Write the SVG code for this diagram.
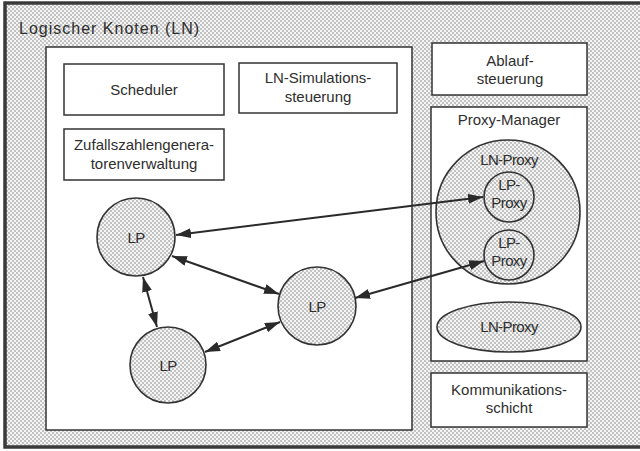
<svg xmlns="http://www.w3.org/2000/svg" width="640" height="451" viewBox="0 0 640 451">
  <defs>
    <pattern id="dots" width="4" height="4" patternUnits="userSpaceOnUse">
      <rect width="4" height="4" fill="#f4f4f4"/>
      <rect x="0" y="0" width="2" height="2" fill="#c2c2c2"/>
      <rect x="2" y="2" width="2" height="2" fill="#c2c2c2"/>
    </pattern>
    <marker id="head" viewBox="0 0 15 10" refX="15" refY="5" markerWidth="15" markerHeight="10" markerUnits="userSpaceOnUse" orient="auto-start-reverse">
      <path d="M0,0 L15,5 L0,10 Z" fill="#2a2a2a"/>
    </marker>
    <style>
      text { font-family: "Liberation Sans", Arial, sans-serif; font-size: 15px; fill: #2e2e2e; text-anchor: middle; }
      .box { fill: #ffffff; stroke: #333333; stroke-width: 1.5; }
      .dot { fill: url(#dots); stroke: #333333; stroke-width: 1.6; }
      .arrow { fill: none; stroke: #2a2a2a; stroke-width: 2; marker-start: url(#head); marker-end: url(#head); }
      .tight { letter-spacing: -0.6px; }
    </style>
  </defs>

  <!-- logical node frame -->
  <g id="ln">
    <rect x="5" y="3" width="645" height="444" fill="url(#dots)"/>
    <path d="M650,3 H5 V447 H650" fill="none" stroke="#3a3a3a" stroke-width="3.5"/>
    <text x="19" y="34" style="text-anchor:start; font-size:16px; letter-spacing:1px">Logischer Knoten (LN)</text>
  </g>

  <!-- inner white panel -->
  <g id="panel">
    <rect class="box" x="46" y="47" width="366" height="383"/>
  </g>

  <g id="scheduler">
    <rect class="box" x="64" y="64" width="160" height="51"/>
    <text x="144" y="95">Scheduler</text>
  </g>

  <g id="ln-simulationssteuerung">
    <rect class="box" x="239" y="63" width="158" height="50"/>
    <text x="318" y="83">LN-Simulations-</text>
    <text x="318" y="102">steuerung</text>
  </g>

  <g id="zufallszahlen">
    <rect class="box" x="64" y="129" width="160" height="51"/>
    <text x="144" y="150">Zufallszahlengenera-</text>
    <text x="144" y="169">torenverwaltung</text>
  </g>

  <g id="ablaufsteuerung">
    <rect class="box" x="432" y="43" width="155" height="52"/>
    <text x="510" y="66">Ablauf-</text>
    <text x="510" y="84">steuerung</text>
  </g>

  <g id="proxy-manager">
    <rect class="box" x="431" y="107" width="156" height="254"/>
    <text x="509" y="125">Proxy-Manager</text>
  </g>

  <g id="ln-proxy-1">
    <circle class="dot" cx="508" cy="212" r="72"/>
    <text x="509" y="165" class="tight">LN-Proxy</text>
  </g>

  <g id="lp-proxy-1">
    <circle class="dot" cx="509" cy="197" r="25"/>
    <text x="509" y="190" class="tight">LP-</text>
    <text x="509" y="208" class="tight">Proxy</text>
  </g>

  <g id="lp-proxy-2">
    <circle class="dot" cx="509" cy="255" r="25"/>
    <text x="509" y="248" class="tight">LP-</text>
    <text x="509" y="266" class="tight">Proxy</text>
  </g>

  <g id="ln-proxy-2">
    <ellipse class="dot" cx="509" cy="327" rx="72" ry="25"/>
    <text x="509" y="332" class="tight">LN-Proxy</text>
  </g>

  <g id="kommunikationsschicht">
    <rect class="box" x="431" y="373" width="156" height="54"/>
    <text x="509" y="395">Kommunikations-</text>
    <text x="509" y="413">schicht</text>
  </g>

  <g id="lp-1">
    <circle class="dot" cx="136" cy="237" r="39"/>
    <text x="136" y="243" class="tight">LP</text>
  </g>

  <g id="lp-2">
    <circle class="dot" cx="168" cy="365" r="38"/>
    <text x="168" y="371" class="tight">LP</text>
  </g>

  <g id="lp-3">
    <circle class="dot" cx="317" cy="306" r="39"/>
    <text x="317" y="312" class="tight">LP</text>
  </g>

  <!-- connectors -->
  <g id="connectors">
    <line class="arrow" x1="176" y1="235" x2="483" y2="197"/>
    <line class="arrow" x1="172" y1="256" x2="279" y2="294"/>
    <line class="arrow" x1="143" y1="277" x2="157" y2="327"/>
    <line class="arrow" x1="205" y1="352" x2="280" y2="322"/>
    <line class="arrow" x1="355" y1="298" x2="484" y2="261"/>
  </g>
</svg>
